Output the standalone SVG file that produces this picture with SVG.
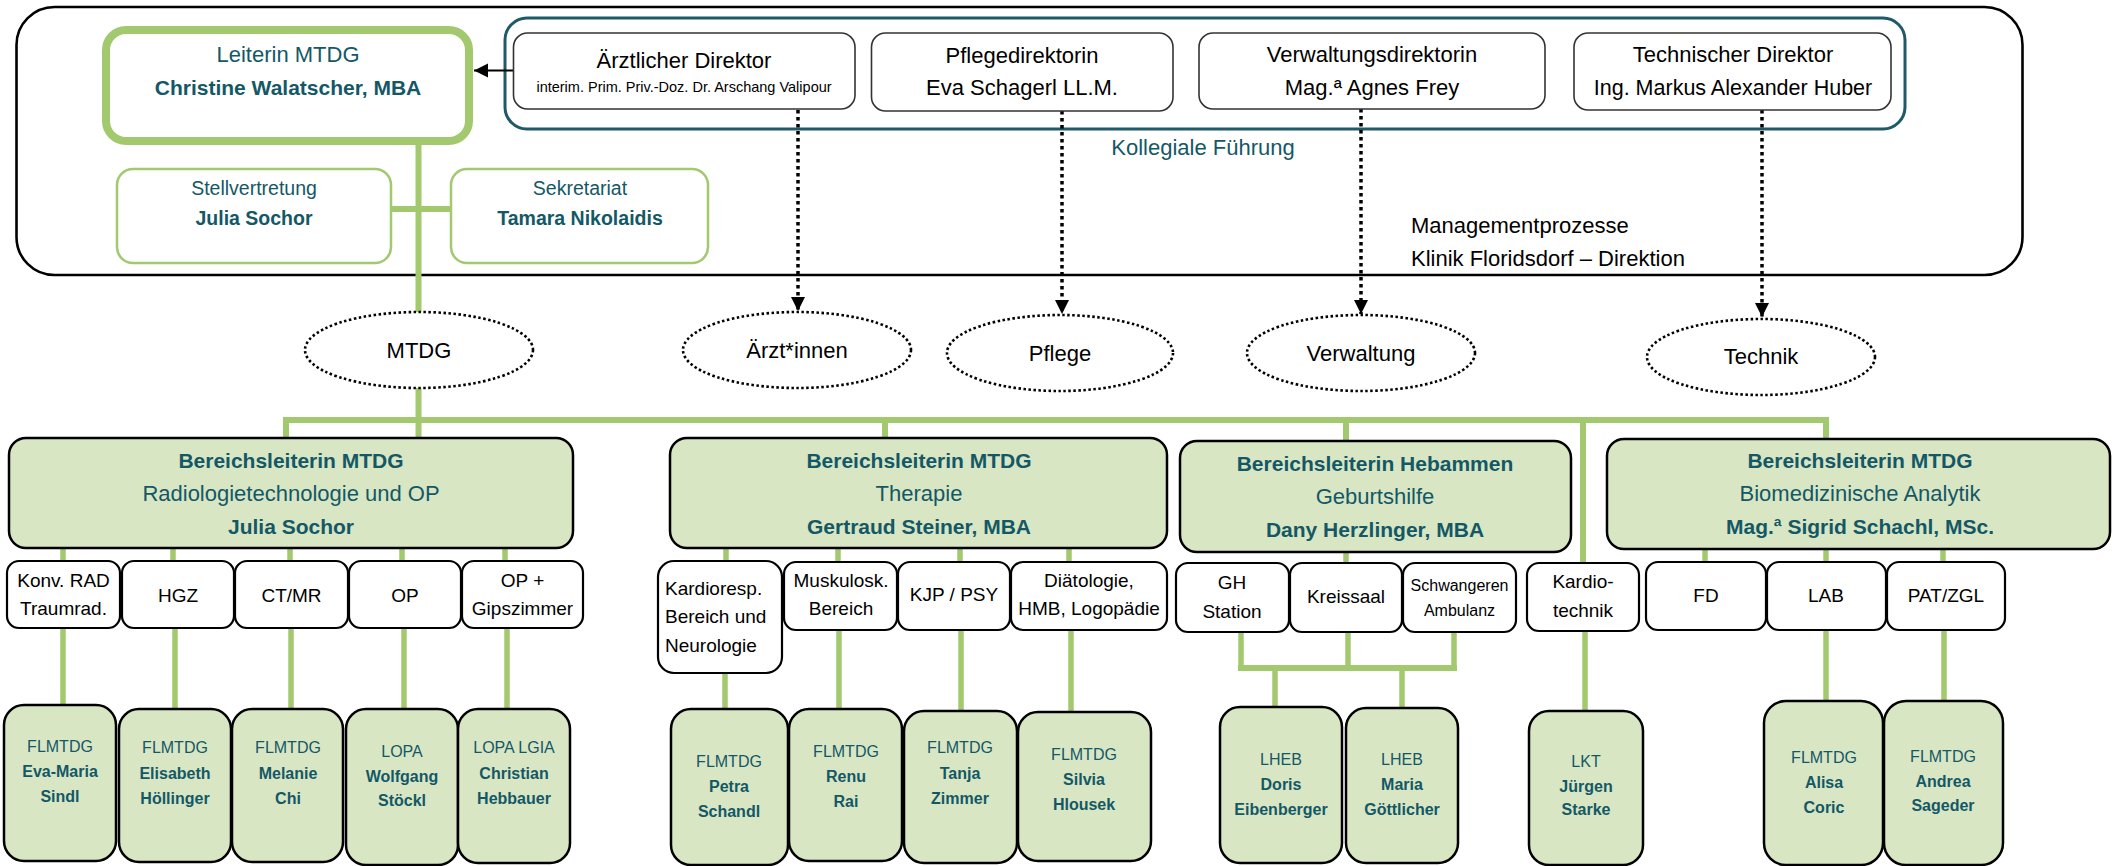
<svg xmlns="http://www.w3.org/2000/svg" width="2114" height="866" viewBox="0 0 2114 866">
<style>
text{font-family:"Liberation Sans",Arial,sans-serif;text-anchor:middle}
.t{fill:#145866}
.b{font-weight:bold}
.k{fill:#000}
.f22{font-size:22px}
.f21{font-size:21px}
.f19{font-size:19.5px}
.f18{font-size:19px}
.f16{font-size:16px}
.gl{stroke:#a3c96e;stroke-width:6;fill:none}
.gs{stroke:#a3c96e;stroke-width:5.5;fill:none}
.area{fill:#d8e6c4;stroke:#000;stroke-width:2.5}
.sub{fill:#fff;stroke:#000;stroke-width:2.2}
.dir{fill:#fff;stroke:#333;stroke-width:1.6}
.ell{fill:#fff;stroke:#000;stroke-width:2.6;stroke-dasharray:2.5 2.5}
.dot{stroke:#000;stroke-width:3.5;stroke-dasharray:3.5 3.5;fill:none}
</style>
<defs>
<marker id="ah" viewBox="0 0 10 10" refX="10" refY="5" markerWidth="4" markerHeight="4" markerUnits="strokeWidth" orient="auto"><path d="M0,0 L10,5 L0,10 z" fill="#000"/></marker>
<marker id="ah2" viewBox="0 0 10 10" refX="10" refY="5" markerWidth="8" markerHeight="8" markerUnits="strokeWidth" orient="auto"><path d="M0,0 L10,5 L0,10 z" fill="#000"/></marker>
</defs>

<g id="management">
<rect x="16.5" y="7" width="2006" height="268" rx="38" fill="none" stroke="#000" stroke-width="2.6"/>
<text class="k f22" x="1411" y="233" style="text-anchor:start">Managementprozesse</text>
<text class="k f22" x="1411" y="266" style="text-anchor:start">Klinik Floridsdorf – Direktion</text>
</g>

<g id="kollegiale">
<rect x="505" y="18" width="1400" height="111" rx="22" fill="none" stroke="#1e5a68" stroke-width="3"/>
<text class="t f22" x="1203" y="155">Kollegiale Führung</text>
</g>

<g id="connectors">
<line class="gl" x1="418.5" y1="145" x2="418.5" y2="312"/>
<line class="gl" x1="391" y1="209" x2="451" y2="209"/>
<line class="gl" x1="418.5" y1="388" x2="418.5" y2="438"/>
<polyline class="gl" points="286,438 286,420 1826,420 1826,439"/>
<line class="gl" x1="885" y1="420" x2="885" y2="438"/>
<line class="gl" x1="1346" y1="420" x2="1346" y2="441"/>
<line class="gl" x1="1583" y1="420" x2="1583" y2="563"/>
<!-- Radiologie -->
<line class="gs" x1="63" y1="548" x2="63" y2="561"/>
<line class="gs" x1="173" y1="548" x2="173" y2="561"/>
<line class="gs" x1="290" y1="548" x2="290" y2="561"/>
<line class="gs" x1="402" y1="548" x2="402" y2="561"/>
<line class="gs" x1="505" y1="548" x2="505" y2="561"/>
<line class="gs" x1="63" y1="628" x2="63" y2="705"/>
<line class="gs" x1="175" y1="628" x2="175" y2="709"/>
<line class="gs" x1="291" y1="628" x2="291" y2="709"/>
<line class="gs" x1="404" y1="628" x2="404" y2="709"/>
<line class="gs" x1="507" y1="628" x2="507" y2="709"/>
<!-- Therapie -->
<line class="gs" x1="726" y1="548" x2="726" y2="561"/>
<line class="gs" x1="838" y1="548" x2="838" y2="562"/>
<line class="gs" x1="960" y1="548" x2="960" y2="562"/>
<line class="gs" x1="1069" y1="548" x2="1069" y2="562"/>
<line class="gs" x1="725" y1="673" x2="725" y2="709"/>
<line class="gs" x1="839" y1="630" x2="839" y2="709"/>
<line class="gs" x1="961" y1="630" x2="961" y2="711"/>
<line class="gs" x1="1071" y1="630" x2="1071" y2="712"/>
<!-- Hebammen -->
<line class="gs" x1="1346" y1="552" x2="1346" y2="563"/>
<line class="gs" x1="1241" y1="632" x2="1241" y2="668"/>
<line class="gs" x1="1348" y1="632" x2="1348" y2="668"/>
<line class="gs" x1="1454" y1="632" x2="1454" y2="668"/>
<line class="gl" x1="1238" y1="668" x2="1457" y2="668"/>
<line class="gs" x1="1275" y1="668" x2="1275" y2="707"/>
<line class="gs" x1="1402" y1="668" x2="1402" y2="708"/>
<!-- Kardiotechnik -->
<line class="gs" x1="1585" y1="632" x2="1585" y2="711"/>
<!-- Biomed -->
<line class="gs" x1="1705" y1="549" x2="1705" y2="562"/>
<line class="gs" x1="1826" y1="549" x2="1826" y2="562"/>
<line class="gs" x1="1943" y1="549" x2="1943" y2="562"/>
<line class="gs" x1="1826" y1="630" x2="1826" y2="701"/>
<line class="gs" x1="1944" y1="630" x2="1944" y2="701"/>
<!-- black -->
<line x1="513" y1="70.5" x2="474" y2="70.5" stroke="#000" stroke-width="1.8" marker-end="url(#ah2)"/>
<line class="dot" x1="798" y1="110" x2="798" y2="311" marker-end="url(#ah)"/>
<line class="dot" x1="1062" y1="111" x2="1062" y2="314" marker-end="url(#ah)"/>
<line class="dot" x1="1361" y1="109" x2="1361" y2="314" marker-end="url(#ah)"/>
<line class="dot" x1="1762" y1="110" x2="1762" y2="317" marker-end="url(#ah)"/>
</g>

<g id="leiterin">
<rect x="106" y="30" width="363" height="111" rx="20" fill="#fff" stroke="#a3c96e" stroke-width="8"/>
<text class="t f22" x="288" y="62">Leiterin MTDG</text>
<text class="t b f21" x="288" y="95">Christine Walatscher, MBA</text>
</g>
<g id="stellvertretung">
<rect x="117" y="169" width="274" height="94" rx="16" fill="#fff" stroke="#a3c96e" stroke-width="2.5"/>
<text class="t f19" x="254" y="195">Stellvertretung</text>
<text class="t b f19" x="254" y="225">Julia Sochor</text>
</g>
<g id="sekretariat">
<rect x="451" y="169" width="257" height="94" rx="16" fill="#fff" stroke="#a3c96e" stroke-width="2.5"/>
<text class="t f19" x="580" y="195">Sekretariat</text>
<text class="t b f19" x="580" y="225">Tamara Nikolaidis</text>
</g>

<g id="aerztl-direktor">
<rect class="dir" x="513.5" y="33" width="341.5" height="76" rx="14"/>
<text class="k f22" x="684" y="68">Ärztlicher Direktor</text>
<text class="k" style="font-size:14.5px" x="684" y="92">interim. Prim. Priv.-Doz. Dr. Arschang Valipour</text>
</g>
<g id="pflegedirektorin">
<rect class="dir" x="871.5" y="33" width="301.5" height="78" rx="14"/>
<text class="k f22" x="1022" y="63">Pflegedirektorin</text>
<text class="k f22" x="1022" y="95">Eva Schagerl LL.M.</text>
</g>
<g id="verwaltungsdirektorin">
<rect class="dir" x="1199" y="33" width="346" height="76" rx="14"/>
<text class="k f22" x="1372" y="62">Verwaltungsdirektorin</text>
<text class="k f22" x="1372" y="95">Mag.ª Agnes Frey</text>
</g>
<g id="technischer-direktor">
<rect class="dir" x="1574" y="33" width="317" height="77" rx="14"/>
<text class="k f22" x="1733" y="62">Technischer Direktor</text>
<text class="k" style="font-size:21.5px" x="1733" y="95">Ing. Markus Alexander Huber</text>
</g>

<g id="e-mtdg"><ellipse class="ell" cx="419" cy="350" rx="114" ry="38"/><text class="k f22" x="419" y="358">MTDG</text></g>
<g id="e-aerzte"><ellipse class="ell" cx="797" cy="350" rx="114" ry="38"/><text class="k f22" x="797" y="358">Ärzt*innen</text></g>
<g id="e-pflege"><ellipse class="ell" cx="1060" cy="353" rx="113" ry="38"/><text class="k f22" x="1060" y="361">Pflege</text></g>
<g id="e-verwaltung"><ellipse class="ell" cx="1361" cy="353" rx="114" ry="38"/><text class="k f22" x="1361" y="361">Verwaltung</text></g>
<g id="e-technik"><ellipse class="ell" cx="1761" cy="357" rx="114" ry="38"/><text class="k f22" x="1761" y="364">Technik</text></g>

<g id="bl-radiologie">
<rect class="area" x="9" y="438" width="564" height="110" rx="17"/>
<text class="t b f21" x="291" y="468">Bereichsleiterin MTDG</text>
<text class="t f22" x="291" y="501">Radiologietechnologie und OP</text>
<text class="t b f21" x="291" y="534">Julia Sochor</text>
</g>
<g id="bl-therapie">
<rect class="area" x="670" y="438" width="497" height="110" rx="17"/>
<text class="t b f21" x="919" y="468">Bereichsleiterin MTDG</text>
<text class="t f22" x="919" y="501">Therapie</text>
<text class="t b f21" x="919" y="534">Gertraud Steiner, MBA</text>
</g>
<g id="bl-hebammen">
<rect class="area" x="1180" y="441" width="391" height="111" rx="17"/>
<text class="t b f21" x="1375" y="471">Bereichsleiterin Hebammen</text>
<text class="t f22" x="1375" y="504">Geburtshilfe</text>
<text class="t b f21" x="1375" y="537">Dany Herzlinger, MBA</text>
</g>
<g id="bl-biomed">
<rect class="area" x="1607" y="439" width="503" height="110" rx="17"/>
<text class="t b f21" x="1860" y="468">Bereichsleiterin MTDG</text>
<text class="t f22" x="1860" y="501">Biomedizinische Analytik</text>
<text class="t b f21" x="1860" y="534">Mag.ª Sigrid Schachl, MSc.</text>
</g>

<g id="s-konv"><rect class="sub" x="7" y="561" width="113" height="67" rx="12"/><text class="k f18" x="63.5" y="587">Konv. RAD</text><text class="k f18" x="63.5" y="615">Traumrad.</text></g>
<g id="s-hgz"><rect class="sub" x="122" y="561" width="112" height="67" rx="12"/><text class="k f18" x="178" y="602">HGZ</text></g>
<g id="s-ctmr"><rect class="sub" x="235" y="561" width="113" height="67" rx="12"/><text class="k f18" x="291.5" y="602">CT/MR</text></g>
<g id="s-op"><rect class="sub" x="349" y="561" width="112" height="67" rx="12"/><text class="k f18" x="405" y="602">OP</text></g>
<g id="s-opgips"><rect class="sub" x="462" y="561" width="121" height="67" rx="12"/><text class="k f18" x="522.5" y="587">OP +</text><text class="k f18" x="522.5" y="615">Gipszimmer</text></g>

<g id="s-kardioresp"><rect class="sub" x="658" y="561" width="124" height="112" rx="16"/><text class="k f18" x="665" y="595" style="text-anchor:start">Kardioresp.</text><text class="k f18" x="665" y="623" style="text-anchor:start">Bereich und</text><text class="k f18" x="665" y="652" style="text-anchor:start">Neurologie</text></g>
<g id="s-muskulosk"><rect class="sub" x="784" y="562" width="113" height="68" rx="12"/><text class="k f18" x="841" y="587">Muskulosk.</text><text class="k f18" x="841" y="615">Bereich</text></g>
<g id="s-kjp"><rect class="sub" x="898" y="562" width="112" height="68" rx="12"/><text class="k f18" x="954" y="601">KJP / PSY</text></g>
<g id="s-diaet"><rect class="sub" x="1011" y="562" width="156" height="68" rx="12"/><text class="k f18" x="1089" y="587">Diätologie,</text><text class="k f18" x="1089" y="615">HMB, Logopädie</text></g>

<g id="s-gh"><rect class="sub" x="1176" y="563" width="113" height="69" rx="12"/><text class="k f18" x="1232" y="589">GH</text><text class="k f18" x="1232" y="618">Station</text></g>
<g id="s-kreissaal"><rect class="sub" x="1290" y="563" width="112" height="69" rx="12"/><text class="k f18" x="1346" y="603">Kreissaal</text></g>
<g id="s-schwanger"><rect class="sub" x="1403" y="563" width="113" height="69" rx="12"/><text class="k" style="font-size:16px" x="1459.5" y="591">Schwangeren</text><text class="k" style="font-size:16px" x="1459.5" y="616">Ambulanz</text></g>
<g id="s-kardiotechnik"><rect class="sub" x="1527" y="563" width="112" height="68" rx="12"/><text class="k f18" x="1583" y="588">Kardio-</text><text class="k f18" x="1583" y="617">technik</text></g>

<g id="s-fd"><rect class="sub" x="1646" y="562" width="120" height="68" rx="12"/><text class="k f18" x="1706" y="602">FD</text></g>
<g id="s-lab"><rect class="sub" x="1767" y="562" width="119" height="68" rx="12"/><text class="k f18" x="1826" y="602">LAB</text></g>
<g id="s-pat"><rect class="sub" x="1887" y="562" width="118" height="68" rx="12"/><text class="k f18" x="1946" y="602">PAT/ZGL</text></g>

<g id="p-sindl"><rect class="area" x="4" y="705" width="112" height="156" rx="20"/><text class="t f16" x="60" y="752">FLMTDG</text><text class="t b f16" x="60" y="777">Eva-Maria</text><text class="t b f16" x="60" y="802">Sindl</text></g>
<g id="p-hoellinger"><rect class="area" x="119" y="709" width="112" height="153" rx="20"/><text class="t f16" x="175" y="753">FLMTDG</text><text class="t b f16" x="175" y="779">Elisabeth</text><text class="t b f16" x="175" y="804">Höllinger</text></g>
<g id="p-chi"><rect class="area" x="232" y="709" width="111" height="153" rx="20"/><text class="t f16" x="288" y="753">FLMTDG</text><text class="t b f16" x="288" y="779">Melanie</text><text class="t b f16" x="288" y="804">Chi</text></g>
<g id="p-stoeckl"><rect class="area" x="346" y="709" width="112" height="156" rx="20"/><text class="t f16" x="402" y="757">LOPA</text><text class="t b f16" x="402" y="782">Wolfgang</text><text class="t b f16" x="402" y="806">Stöckl</text></g>
<g id="p-hebbauer"><rect class="area" x="458" y="709" width="112" height="154" rx="20"/><text class="t f16" x="514" y="753">LOPA LGIA</text><text class="t b f16" x="514" y="779">Christian</text><text class="t b f16" x="514" y="804">Hebbauer</text></g>

<g id="p-schandl"><rect class="area" x="671" y="709" width="117" height="156" rx="20"/><text class="t f16" x="729" y="767">FLMTDG</text><text class="t b f16" x="729" y="792">Petra</text><text class="t b f16" x="729" y="817">Schandl</text></g>
<g id="p-rai"><rect class="area" x="789" y="709" width="113" height="152" rx="20"/><text class="t f16" x="846" y="757">FLMTDG</text><text class="t b f16" x="846" y="782">Renu</text><text class="t b f16" x="846" y="807">Rai</text></g>
<g id="p-zimmer"><rect class="area" x="904" y="711" width="113" height="152" rx="20"/><text class="t f16" x="960" y="753">FLMTDG</text><text class="t b f16" x="960" y="779">Tanja</text><text class="t b f16" x="960" y="804">Zimmer</text></g>
<g id="p-hlousek"><rect class="area" x="1018" y="712" width="133" height="149" rx="20"/><text class="t f16" x="1084" y="760">FLMTDG</text><text class="t b f16" x="1084" y="785">Silvia</text><text class="t b f16" x="1084" y="810">Hlousek</text></g>

<g id="p-eibenberger"><rect class="area" x="1220" y="707" width="122" height="156" rx="20"/><text class="t f16" x="1281" y="765">LHEB</text><text class="t b f16" x="1281" y="790">Doris</text><text class="t b f16" x="1281" y="815">Eibenberger</text></g>
<g id="p-goettlicher"><rect class="area" x="1346" y="708" width="112" height="155" rx="20"/><text class="t f16" x="1402" y="765">LHEB</text><text class="t b f16" x="1402" y="790">Maria</text><text class="t b f16" x="1402" y="815">Göttlicher</text></g>

<g id="p-starke"><rect class="area" x="1529" y="711" width="114" height="154" rx="20"/><text class="t f16" x="1586" y="767">LKT</text><text class="t b f16" x="1586" y="792">Jürgen</text><text class="t b f16" x="1586" y="815">Starke</text></g>
<g id="p-coric"><rect class="area" x="1764" y="701" width="119" height="164" rx="22"/><text class="t f16" x="1824" y="763">FLMTDG</text><text class="t b f16" x="1824" y="788">Alisa</text><text class="t b f16" x="1824" y="813">Coric</text></g>
<g id="p-sageder"><rect class="area" x="1884" y="701" width="119" height="164" rx="22"/><text class="t f16" x="1943" y="762">FLMTDG</text><text class="t b f16" x="1943" y="787">Andrea</text><text class="t b f16" x="1943" y="811">Sageder</text></g>
</svg>
